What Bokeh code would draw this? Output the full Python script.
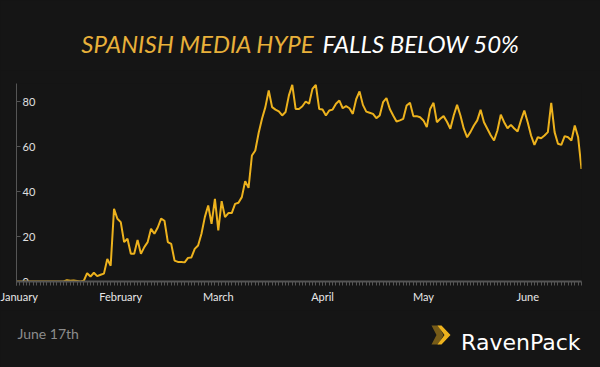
import datetime as dt
from bokeh.plotting import figure
from bokeh.layouts import column
from bokeh.models import (FixedTicker, Range1d, CustomJSTickFormatter,
                          ColumnDataSource)
from bokeh.core.properties import value
from bokeh.embed import file_html
from bokeh.resources import INLINE

# ---------------- data ----------------
hype = [
    0, 0, 0, 0, 0, 0, 0, 0, 0, 0,            # d0-9
    0, 0, 0, 0, 0, 0.6, 0.3, 0.4, 0.2, 0,    # d10-19
    0.3, 3.7, 2.2, 3.9, 2.4, 3.0, 3.5, 10.0, 7.0, 32.3,   # d20-29
    27.9, 26.4, 17.5, 19.0, 12.3, 12.3, 18.5, 12.3, 15.3, 17.5,  # d30-39
    23.4, 21.2, 24.0, 27.9, 27.0, 17.5, 16.7, 9.3, 8.7, 8.7,    # d40-49
    8.5, 10.5, 10.7, 14.5, 16.0, 21.2, 28.6, 33.8, 25.6, 36.7,  # d50-59
    22.7, 35.7, 28.6, 30.4, 30.4, 34.5, 35.0, 37.5, 44.6, 41.6, # d60-69
    56.0, 58.2, 66.0, 72.3, 77.5, 84.9, 77.5, 76.4, 75.6, 73.8, # d70-79
    75.3, 82.7, 87.4, 76.7, 76.7, 77.9, 80.0, 79.0, 85.6, 87.4, # d80-89
    76.7, 76.4, 73.8, 76.0, 76.4, 79.0, 80.4, 77.0, 77.9, 77.0, # d90-99
    74.5, 81.0, 84.5, 78.5, 75.5, 75.0, 74.5, 72.6, 73.8, 79.7, # d100-109
    81.5, 76.7, 73.8, 71.1, 71.6, 72.3, 78.2, 79.4, 73.5, 73.5, # d110-119
    73.0, 71.6, 68.6, 76.7, 79.4, 70.8, 72.3, 73.5, 71.0, 67.9, # d120-129
    73.8, 78.5, 73.8, 67.9, 64.1, 66.5, 69.3, 71.6, 76.3, 70.8, # d130-139
    67.9, 65.0, 62.7, 67.1, 74.1, 70.8, 68.1, 69.6, 68.0, 66.7, # d140-149
    71.6, 76.0, 70.8, 64.9, 60.7, 64.1, 63.7, 64.9, 66.4, 79.4, # d150-159
    66.4, 61.2, 60.7, 64.6, 64.1, 62.7, 69.3, 64.1, 50.0,       # d160-168
]
start_date = dt.datetime(2020, 1, 1)
end_date = dt.datetime(2020, 6, 17)
dates = [start_date + dt.timedelta(days=i) for i in range(len(hype))]

month_names = ["January", "February", "March", "April", "May", "June"]
month_starts = [dt.datetime(2020, m, 1) for m in range(1, 7)]
y_ticks = [0, 20, 40, 60, 80]
y_tick_labels = ["0", "20", "40", "60", "80"]

title_gold = "SPANISH MEDIA HYPE"
title_white = "FALLS BELOW 50%"
footer_date = "June 17th"
brand = "RavenPack"

# ---------------- styling ----------------
BG = "#151515"
GOLD = "#EDB21D"
TITLE_GOLD = "#E8B03A"
AXIS = "#555555"
W = 600
H_TITLE, H_MAIN, H_FOOT = 70, 240, 57


def blank(height):
    f = figure(width=W, height=height, x_range=Range1d(0, W),
               y_range=Range1d(height, 0), output_backend="svg",
               toolbar_location=None, min_border=0,
               min_border_left=0, min_border_right=0,
               min_border_top=0, min_border_bottom=0)
    f.frame_align = False
    f.axis.visible = False
    f.grid.visible = False
    f.background_fill_color = BG
    f.border_fill_color = BG
    f.outline_line_color = None
    f.styles = {"background-color": BG}
    return f


# ---------------- title strip ----------------
t = blank(H_TITLE)
t.text(x=[314], y=[43], text=[title_gold], text_align="right",
       text_baseline="middle", text_font=value("Lato"),
       text_font_style="italic", text_font_size="24px",
       text_color=TITLE_GOLD)
t.text(x=[322], y=[43], text=[title_white], text_align="left",
       text_baseline="middle", text_font=value("Lato"),
       text_font_style="italic", text_font_size="24px", text_color="#ffffff")

# ---------------- main chart ----------------
epoch = dt.datetime(1970, 1, 1)


def ms(d):
    return (d - epoch).total_seconds() * 1000.0


p = figure(width=W, height=H_MAIN, x_axis_type="datetime",
           x_range=Range1d(ms(start_date), ms(end_date)),
           y_range=Range1d(0, 88),
           output_backend="svg", toolbar_location=None,
           min_border_left=16, min_border_right=19,
           min_border_top=13, min_border_bottom=29)
p.frame_align = False
p.background_fill_color = BG
p.border_fill_color = BG
p.outline_line_color = None
p.styles = {"background-color": BG}
p.xgrid.visible = False
p.ygrid.visible = False

src = ColumnDataSource(dict(date=dates, hype=hype))
p.line("date", "hype", source=src, line_color=GOLD, line_width=2)

xa = p.xaxis[0]
xa.ticker = FixedTicker(ticks=[ms(d) for d in month_starts],
                        minor_ticks=[ms(d) for d in dates])
xa.major_label_overrides = {ms(d): n for d, n in zip(month_starts, month_names)}
xa.axis_line_color = AXIS
xa.axis_line_width = 2
xa.major_tick_line_color = AXIS
xa.minor_tick_line_color = AXIS
xa.major_tick_in = 0
xa.major_tick_out = 4
xa.minor_tick_in = 0
xa.minor_tick_out = 4
xa.major_label_text_color = "#e8e8e8"
xa.major_label_text_font = "Lato"
xa.major_label_text_font_size = "11px"
xa.major_label_standoff = 4

ya = p.yaxis[0]
ya.ticker = FixedTicker(ticks=y_ticks)
ya.formatter = CustomJSTickFormatter(code="return ''")
ya.axis_line_color = AXIS
ya.major_tick_line_color = AXIS
ya.major_tick_in = 4
ya.major_tick_out = 0
ya.minor_tick_line_color = None
ya.major_label_standoff = 0

p.text(x=[start_date] * len(y_ticks), y=y_ticks, text=y_tick_labels,
       x_offset=6, text_baseline="middle", text_align="left",
       text_color="#e0e0e0", text_font=value("Lato"), text_font_size="11px")

# ---------------- footer strip ----------------
f = blank(H_FOOT)
f.text(x=[17], y=[23], text=[footer_date], text_align="left",
       text_baseline="middle", text_font=value("Lato"),
       text_font_size="14px", text_color="#8c8c8c")
f.text(x=[580], y=[32], text=[brand], text_align="right",
       text_baseline="alphabetic", text_font=value("DejaVu Sans"),
       text_font_size="22px", text_color="#ffffff")
# logo chevron (faded tail + solid head)
f.patch(x=[431, 438, 443, 438, 431, 436], y=[15, 15, 24.5, 34, 34, 24.5],
        fill_color=GOLD, fill_alpha=0.45, line_color=None)
f.patch(x=[437, 441, 450, 441, 437, 444], y=[15, 15, 24.5, 34, 34, 24.5],
        fill_color=GOLD, fill_alpha=1.0, line_color=None)

layout = column(t, p, f, spacing=0, styles={"background-color": BG})
open("out.html", "w").write(file_html(layout, INLINE))
